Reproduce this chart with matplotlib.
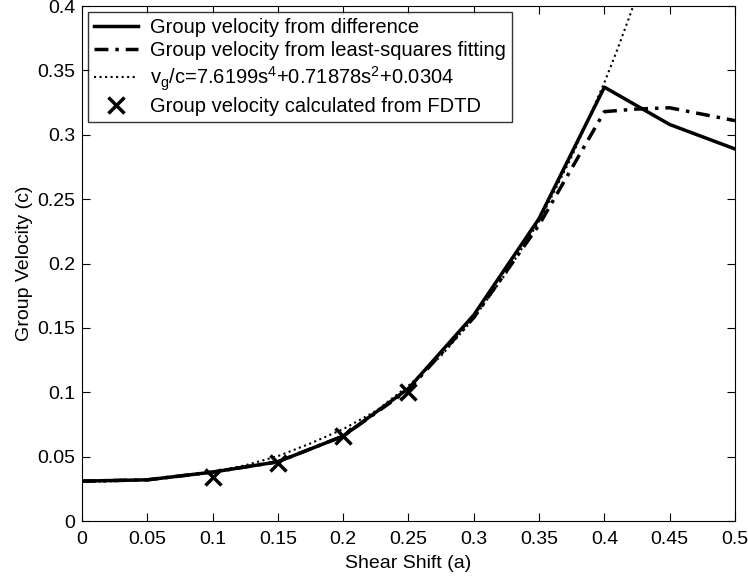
import numpy as np
import matplotlib
matplotlib.use("Agg")
import matplotlib.pyplot as plt

plt.rcParams['font.family'] = ['Liberation Sans', 'DejaVu Sans']
plt.rcParams['mathtext.default'] = 'regular'

# shear shift values (a)
shift = [0, 0.05, 0.1, 0.15, 0.2, 0.25, 0.3, 0.35, 0.4, 0.45, 0.5]
vg_diff = [0.031, 0.032, 0.038, 0.046, 0.066, 0.103, 0.160, 0.235, 0.337, 0.308, 0.289]

shift_fit = [0, 0.05, 0.1, 0.15, 0.2, 0.25, 0.3, 0.35, 0.4, 0.425, 0.45, 0.5]
vg_fit = [0.031, 0.032, 0.038, 0.046, 0.066, 0.102, 0.158, 0.230, 0.318, 0.320, 0.321, 0.311]

# polynomial fit curve
shift_poly = [0, 0.025, 0.05, 0.075, 0.1, 0.125, 0.15, 0.175, 0.2, 0.225, 0.25,
              0.275, 0.3, 0.325, 0.35, 0.375, 0.4, 0.41, 0.42, 0.43]
vg_poly = [0.0304, 0.0309, 0.0323, 0.0347, 0.0383, 0.0433, 0.0504, 0.0603, 0.0714, 0.0854,
           0.1051, 0.1283, 0.1576, 0.1928, 0.2327, 0.2830, 0.3405, 0.3664, 0.3940, 0.4235]

shift_fdtd = [0.1, 0.15, 0.2, 0.25]
vg_fdtd = [0.034, 0.045, 0.066, 0.100]

fig = plt.figure(figsize=(7.48, 5.77), dpi=100)
ax = fig.add_axes([0.1096, 0.097, 0.873, 0.8925])

ax.plot(shift, vg_diff, 'k-', lw=2.5, label='Group velocity from difference')
ax.plot(shift_fit, vg_fit, 'k', lw=2.5, dashes=(4, 2, 1, 2),
        label='Group velocity from least-squares fitting')
ax.plot(shift_poly, vg_poly, 'k:', lw=1.5,
        label='v$_g$/c=7.6199s$^4$+0.71878s$^2$+0.0304')
ax.plot(shift_fdtd, vg_fdtd, 'kx', ms=11, mew=2.5, ls='none',
        label='Group velocity calculated from FDTD')

ax.set_xlim(0, 0.5)
ax.set_ylim(0, 0.4)
ax.set_xticks(np.arange(0, 0.501, 0.05))
ax.set_xticklabels(['0', '0.05', '0.1', '0.15', '0.2', '0.25', '0.3', '0.35', '0.4', '0.45', '0.5'])
ax.set_yticks(np.arange(0, 0.401, 0.05))
ax.set_yticklabels(['0', '0.05', '0.1', '0.15', '0.2', '0.25', '0.3', '0.35', '0.4'])
ax.tick_params(direction='in', top=True, right=True, labelsize=14, length=6)
ax.tick_params(axis='x', pad=7)
ax.tick_params(axis='y', pad=5)
ax.set_xlabel('Shear Shift (a)', fontsize=14, labelpad=5)
ax.set_ylabel('Group Velocity (c)', fontsize=14, labelpad=3)

leg = ax.legend(loc='upper left', fontsize=14.5, frameon=True, fancybox=False,
                edgecolor='k', borderaxespad=0.3, handlelength=2.2,
                labelspacing=0.2, borderpad=0.3, handletextpad=0.6)
leg.get_frame().set_linewidth(1.0)

fig.savefig('out.png', dpi=100)
